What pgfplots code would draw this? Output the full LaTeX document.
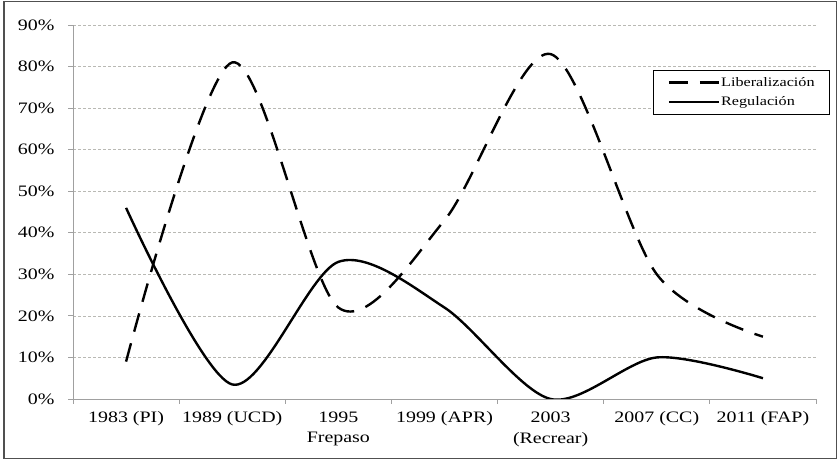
\documentclass[border=0pt]{standalone}
\usepackage{fontspec}
\setmainfont{Liberation Serif}[FakeStretch=1.25]
\usepackage{pgfplots}
\pgfplotsset{compat=1.18}

\definecolor{axisgray}{RGB}{160,160,160}
\definecolor{gridgray}{RGB}{185,185,180}
\definecolor{framegray}{RGB}{80,80,80}

\begin{document}
\begin{tikzpicture}[x=1bp,y=1bp]
\useasboundingbox (0,0) rectangle (838,460);
\draw[framegray, line width=1.5bp] (4,1.5) rectangle (836.5,458.5);
\begin{axis}[
    at={(73bp,61bp)}, anchor=south west,
    scale only axis,
    width=743bp, height=374bp,
    xmin=-0.5, xmax=6.5,
    ymin=0, ymax=90,
    xtick={0,...,6},
    xticklabels={1983 (PI),1989 (UCD),1995\\Frepaso,1999 (APR),2003\\(Recrear),2007 (CC),2011 (FAP)},
    xticklabel style={align=center, font=\fontsize{16}{21}\selectfont, yshift=-4bp},
    major x tick style={draw=none},
    minor xtick={-0.5,0.5,...,6.5},
    minor tick length=5bp,
    ytick={0,10,...,90},
    yticklabel={\pgfmathprintnumber{\tick}\%},
    yticklabel style={font=\fontsize{16}{19}\selectfont, xshift=-10bp},
    /pgf/number format/assume math mode=true,
    major tick length=5bp,
    tick align=outside,
    tick style={axisgray, line width=0.9bp},
    axis x line*=bottom, axis y line*=left,
    axis line style={axisgray, line width=0.9bp, -},
    ymajorgrids=true,
    grid style={gridgray, dash pattern=on 3bp off 2bp, line width=0.7bp},
    legend cell align=left,
    legend style={at={(0.781,0.88)}, anchor=north west,
        draw=black, line width=0.9bp, font=\fontsize{13}{15}\selectfont,
        inner xsep=14bp, inner ysep=5bp, row sep=5bp,
        nodes={inner xsep=1bp}},
    legend image code/.code={\draw[#1] (0bp,0bp) -- (50bp,0bp);},
]
\addplot[black, line width=2.4bp, smooth, dash pattern=on 19bp off 12bp] coordinates {
    (0,9) (1,81) (2,22) (3,43) (4,83) (5,30) (6,15)
};
\addplot[black, line width=2.4bp, smooth] coordinates {
    (0,46) (1,3.5) (2,33) (3,22) (4,0) (5,10) (6,5)
};
\legend{Liberalización, Regulación}
\end{axis}
\end{tikzpicture}
\end{document}
